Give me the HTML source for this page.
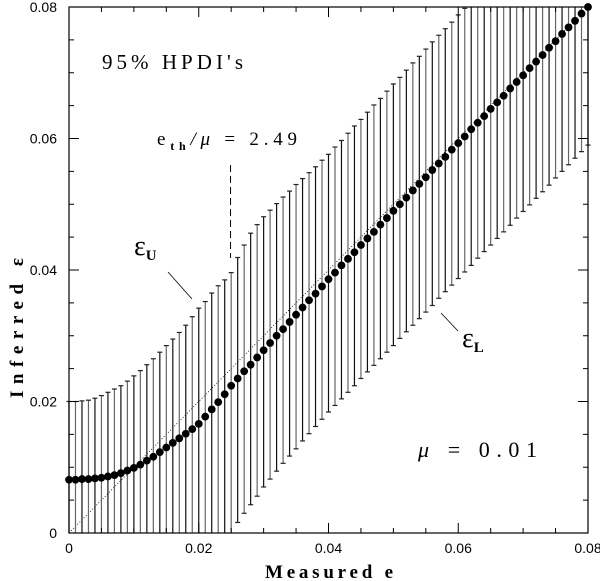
<!DOCTYPE html>
<html><head><meta charset="utf-8"><style>
body{margin:0;background:#fff;}
svg{display:block;font-family:"Liberation Sans",sans-serif;}
.ann{font-family:"Liberation Serif",serif;}
</style></head><body>
<svg id="chart" width="600" height="581" viewBox="0 0 600 581">
<g id="grid"></g>
<g id="bars"></g>
<g id="dots"></g>
<g id="axes"></g>
<text class="ann" x="102" y="69" font-size="21" textLength="141" lengthAdjust="spacing">95% HPDI's</text>
<text class="ann" x="157" y="145" font-size="19" textLength="140" lengthAdjust="spacing">e<tspan font-size="12" dy="5" font-weight="bold">th</tspan><tspan dy="-5" font-style="italic">/μ</tspan>  =  2.49</text>
<text class="ann" x="134" y="255" font-size="28">ε<tspan font-size="15" dy="5" font-weight="bold">U</tspan></text>
<line x1="168" y1="272" x2="192" y2="299" stroke="#000" stroke-width="0.8"/>
<text class="ann" x="462" y="347" font-size="28">ε<tspan font-size="15" dy="5" font-weight="bold">L</tspan></text>
<line x1="441" y1="313" x2="458" y2="331" stroke="#000" stroke-width="0.8"/>
<text class="ann" x="418" y="457" font-size="22" textLength="119" lengthAdjust="spacing"><tspan font-style="italic">μ</tspan>  =  0.01</text>
<text x="265" y="578" font-size="19" font-weight="bold" class="ann" textLength="128" lengthAdjust="spacing">Measured e</text>
<text x="0" y="0" font-size="19" font-weight="bold" class="ann" textLength="140" lengthAdjust="spacing" transform="translate(23,398) rotate(-90)">Inferred ε</text>
</svg>
<script>
const measured = [];
for (let i = 0; i <= 80; i++) measured.push(i / 1000);
const center = [.0081,.0081,.0082,.0082,.0083,.0084,.0086,.0088,.0091,.0095,.0099,
.0104,.0110,.0116,.0123,.0130,.0137,.0144,.0151,.0158,.0166,
.0177,.0188,.0199,.0211,.0224,.0235,.0246,.0256,.0267,.0278,
.0289,.0300,.0310,.0321,.0332,.0343,.0354,.0364,.0375,.0386,
.0396,.0407,.0417,.0427,.0438,.0448,.0458,.0469,.0479,.0490,
.0500,.0510,.0521,.0531,.0541,.0552,.0562,.0572,.0583,.0593,
.0603,.0614,.0624,.0634,.0645,.0655,.0665,.0676,.0686,.0696,
.0707,.0717,.0727,.0738,.0748,.0759,.0769,.0779,.0790,.0800];
const upper = [.0200,.0200,.0201,.0202,.0205,.0209,.0214,.0219,.0224,.0231,.0239,
.0247,.0256,.0265,.0275,.0285,.0295,.0305,.0316,.0329,.0342,
.0352,.0365,.0376,.0385,.0396,.0419,.0438,.0456,.0469,.0481,
.0491,.0501,.0511,.0520,.0530,.0539,.0548,.0557,.0567,.0576,
.0587,.0597,.0608,.0619,.0629,.0640,.0651,.0661,.0672,.0683,
.0693,.0704,.0715,.0725,.0736,.0747,.0757,.0767,.0777,.0788,
.0798,.0808,.0818,.0828,.0838,.0848,.0858,.0868,.0878,.0888,
.0898,.0908,.0918,.0928,.0938,.0948,.0958,.0968,.0978,.0988];
const lower = [0,0,0,0,0,0,0,0,0,0,0,0,0,0,0,0,0,0,0,0,0,0,0,0,0,0,
.0016,.0030,.0043,.0056,.0070,
.0082,.0094,.0106,.0117,.0128,.0140,.0151,.0162,.0173,.0184,
.0194,.0204,.0214,.0224,.0235,.0245,.0255,.0265,.0275,.0285,
.0296,.0306,.0316,.0326,.0336,.0346,.0357,.0367,.0377,.0387,
.0397,.0407,.0418,.0428,.0438,.0448,.0458,.0468,.0479,.0489,
.0499,.0509,.0519,.0529,.0540,.0550,.0560,.0570,.0580,.0590];
const tickLabels = ["0","0.02","0.04","0.06","0.08"];
const tickValues = [0,0.02,0.04,0.06,0.08];
const threshold = 0.0249;

const X0=69,X1=588,Y0=533,Y1=7,MAX=0.08;
const xs=v=>X0+(v/MAX)*(X1-X0);
const ys=v=>Y0-(Math.min(v,MAX)/MAX)*(Y0-Y1);
const NS="http://www.w3.org/2000/svg";
function mk(tag,attrs,parent){const e=document.createElementNS(NS,tag);for(const k in attrs)e.setAttribute(k,attrs[k]);parent.appendChild(e);return e;}
const grid=document.getElementById('grid'),bars=document.getElementById('bars'),dots=document.getElementById('dots'),axes=document.getElementById('axes');

let el=mk('line',{x1:xs(0),y1:ys(0),x2:xs(MAX),y2:ys(MAX),stroke:'#000','stroke-width':0.8,'stroke-dasharray':'1 2'},grid);


el=mk('line',{x1:xs(threshold),y1:165,x2:xs(threshold),y2:258,stroke:'#000','stroke-width':1,'stroke-dasharray':'7 4'},grid);



measured.forEach((m,i)=>{
  const x=xs(m),yt=ys(upper[i]),yb=ys(lower[i]);
  const g=mk('g',{},bars);
  
  
  mk('line',{x1:x,y1:yt,x2:x,y2:yb,stroke:i%2?'#666':'#111','stroke-width':1.2},g);
  if(upper[i]<MAX) mk('line',{x1:x-2.5,y1:yt,x2:x+2.5,y2:yt,stroke:'#222','stroke-width':1.2},g);
  if(lower[i]>0) mk('line',{x1:x-2.5,y1:yb,x2:x+2.5,y2:yb,stroke:'#222','stroke-width':1.2},g);
  const c=mk('circle',{cx:x,cy:ys(center[i]),r:3.9,fill:'#000'},dots);
  
  
});

el=mk('rect',{x:X0,y:Y1,width:X1-X0,height:Y0-Y1,fill:'none',stroke:'#000','stroke-width':1.2},axes);


for(let k=0;k<=16;k++){
  const v=k*0.005,major=k%4===0,L=major?10:5;
  const x=xs(v),y=ys(v);
  mk('line',{x1:x,y1:Y0,x2:x,y2:Y0-L,stroke:'#000'},axes);
  mk('line',{x1:x,y1:Y1,x2:x,y2:Y1+L,stroke:'#000'},axes);
  mk('line',{x1:X0,y1:y,x2:X0+L,y2:y,stroke:'#000'},axes);
  mk('line',{x1:X1,y1:y,x2:X1-L,y2:y,stroke:'#000'},axes);
}
tickValues.forEach((v,i)=>{
  let t=mk('text',{x:xs(v),y:553,'font-size':14,'text-anchor':'middle'},axes);
  t.textContent=tickLabels[i];
  
  
  t=mk('text',{x:57,y:ys(v)+5,'font-size':14,'text-anchor':'end'},axes);
  t.textContent=tickLabels[i];
  
  
});
</script>
</body></html>
